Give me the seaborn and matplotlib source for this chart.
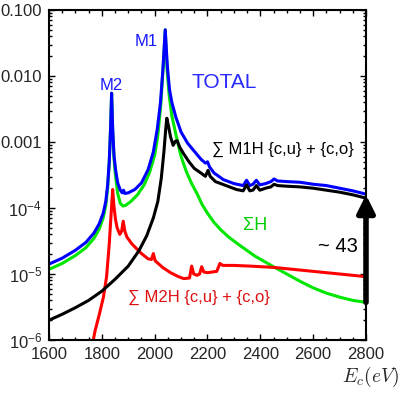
import numpy as np
import matplotlib
matplotlib.use("Agg")
import matplotlib.pyplot as plt
import seaborn as sns
from matplotlib.ticker import FixedLocator, FixedFormatter, MultipleLocator, LogLocator, NullFormatter

# --- data (energy in eV, log10 of the yield) ---
e_total = [1600, 1650, 1700, 1740, 1770, 1790, 1805, 1815, 1822, 1828, 1833, 1837, 1841, 1846,
           1852, 1860, 1870, 1877, 1882, 1887, 1900, 1925, 1950, 1975, 1995, 2010, 2022, 2032,
           2040, 2048, 2056, 2065, 2080, 2100, 2125, 2150, 2175, 2192, 2200, 2208, 2225, 2260,
           2300, 2335, 2348, 2360, 2372, 2385, 2398, 2420, 2440, 2452, 2465, 2500, 2550, 2600,
           2650, 2700, 2750, 2800]
log_total = [-4.85, -4.76, -4.64, -4.52, -4.38, -4.24, -4.08, -3.90, -3.65, -3.30, -2.80, -2.26,
             -2.80, -3.20, -3.42, -3.62, -3.73, -3.77, -3.73, -3.78, -3.77, -3.72, -3.62, -3.42,
             -3.15, -2.80, -2.40, -1.85, -1.30, -1.85, -2.20, -2.40, -2.62, -2.85, -3.02, -3.14,
             -3.26, -3.32, -3.30, -3.38, -3.47, -3.57, -3.63, -3.66, -3.58, -3.66, -3.64, -3.58,
             -3.65, -3.63, -3.60, -3.56, -3.59, -3.60, -3.61, -3.64, -3.66, -3.70, -3.74, -3.79]

e_h = [1600, 1650, 1700, 1740, 1770, 1790, 1805, 1815, 1822, 1828, 1833, 1837, 1841, 1846, 1852,
       1860, 1870, 1880, 1890, 1910, 1935, 1960, 1980, 2000, 2012, 2023, 2032, 2040, 2047, 2055,
       2065, 2080, 2100, 2120, 2140, 2160, 2180, 2200, 2225, 2250, 2280, 2320, 2380, 2450, 2500,
       2550, 2600, 2650, 2700, 2750, 2800]
log_h = [-4.93, -4.84, -4.72, -4.60, -4.46, -4.32, -4.15, -3.96, -3.70, -3.32, -2.80, -2.26, -2.82,
         -3.25, -3.52, -3.78, -3.93, -3.97, -3.96, -3.90, -3.80, -3.65, -3.47, -3.20, -2.90, -2.45,
         -1.88, -1.30, -1.90, -2.30, -2.60, -2.88, -3.22, -3.45, -3.63, -3.78, -3.95, -4.08, -4.22,
         -4.33, -4.44, -4.56, -4.73, -4.89, -5.00, -5.11, -5.21, -5.29, -5.35, -5.40, -5.43]

e_m1h = [1600, 1650, 1700, 1750, 1800, 1850, 1900, 1940, 1970, 1995, 2012, 2025, 2035, 2042, 2046,
         2052, 2060, 2070, 2078, 2085, 2095, 2110, 2130, 2150, 2175, 2192, 2202, 2210, 2230, 2270,
         2310, 2335, 2348, 2360, 2372, 2385, 2398, 2420, 2440, 2452, 2465, 2500, 2550, 2600, 2650,
         2700, 2750, 2800]
log_m1h = [-5.70, -5.61, -5.51, -5.40, -5.26, -5.08, -4.88, -4.65, -4.42, -4.15, -3.90, -3.55, -3.15,
           -2.80, -2.64, -2.75, -2.92, -3.05, -2.99, -2.98, -3.08, -3.18, -3.30, -3.40, -3.47, -3.52,
           -3.43, -3.52, -3.60, -3.66, -3.72, -3.74, -3.65, -3.74, -3.73, -3.66, -3.73, -3.70, -3.68,
           -3.64, -3.66, -3.67, -3.68, -3.70, -3.73, -3.76, -3.80, -3.85]

e_m2h = [1760, 1775, 1790, 1806, 1818, 1828, 1835, 1841, 1846, 1852, 1858, 1868, 1875, 1881, 1887,
         1895, 1913, 1930, 1950, 1975, 1988, 1995, 2002, 2030, 2060, 2090, 2110, 2132, 2140, 2148,
         2160, 2170, 2178, 2186, 2200, 2235, 2247, 2258, 2300, 2360, 2450, 2550, 2650, 2700, 2800]
log_m2h = [-6.15, -5.85, -5.62, -5.35, -5.04, -4.55, -4.10, -3.72, -3.98, -4.18, -4.30, -4.40, -4.35,
           -4.20, -4.35, -4.44, -4.54, -4.61, -4.69, -4.77, -4.78, -4.69, -4.80, -4.90, -4.98, -5.04,
           -5.07, -5.06, -4.88, -5.00, -5.02, -5.00, -4.89, -4.97, -4.98, -4.96, -4.84, -4.87, -4.87,
           -4.88, -4.90, -4.94, -4.98, -5.00, -5.04]

y_ticks = [1e-6, 1e-5, 1e-4, 1e-3, 1e-2, 1e-1]
y_ticklabels = ["$10^{-6}$", "$10^{-5}$", "$10^{-4}$", "0.001", "0.010", "0.100"]
x_ticks = [1600, 1800, 2000, 2200, 2400, 2600, 2800]

sns.set_style("ticks")
plt.rcParams["font.family"] = ["Liberation Sans", "DejaVu Sans"]
plt.rcParams["mathtext.fontset"] = "custom"
plt.rcParams["mathtext.rm"] = "Liberation Sans"
plt.rcParams["mathtext.it"] = "Liberation Sans:italic"

fig = plt.figure(figsize=(4.15, 3.94), dpi=100)
ax = fig.add_axes([49 / 415, 54 / 394, 317 / 415, 330 / 394])

lw = 2.2
sns.lineplot(x=e_h, y=10 ** np.array(log_h), ax=ax, color="#00e600", lw=lw, sort=False)
sns.lineplot(x=e_m2h, y=10 ** np.array(log_m2h), ax=ax, color="#ff0000", lw=lw, sort=False)
sns.lineplot(x=e_total, y=10 ** np.array(log_total), ax=ax, color="#0000ff", lw=lw, sort=False)
sns.lineplot(x=e_m1h, y=10 ** np.array(log_m1h), ax=ax, color="black", lw=lw, sort=False)

ax.set_yscale("log")
ax.set_xlim(1600, 2800)
ax.set_ylim(1e-6, 0.1)

ax.yaxis.set_major_locator(FixedLocator(y_ticks))
ax.yaxis.set_major_formatter(FixedFormatter(y_ticklabels))
ax.yaxis.set_minor_locator(LogLocator(base=10, subs=np.arange(2, 10)))
ax.yaxis.set_minor_formatter(NullFormatter())
ax.xaxis.set_major_locator(FixedLocator(x_ticks))
ax.xaxis.set_minor_locator(MultipleLocator(50))

ax.tick_params(which="both", direction="in", top=True, right=True, labelsize=12, width=1, color="black")
ax.tick_params(which="major", length=4, pad=5)
ax.tick_params(which="minor", length=2.5)
for s in ax.spines.values():
    s.set_linewidth(1.5)
    s.set_color("black")
ax.set_xlabel("")
ax.set_ylabel("")

# --- annotations ---
ax.text(1967, 10 ** -1.47, "M1", color="#1a1aff", fontsize=12, ha="center", va="center")
ax.text(1835, 10 ** -2.15, "M2", color="#1a1aff", fontsize=12, ha="center", va="center")
ax.text(2262, 10 ** -2.10, "TOTAL", color="#2a2aff", fontsize=15, ha="center", va="center")
ax.text(2217, 10 ** -3.12, "\u2211 M1H {c,u} + {c,o}", color="black", fontsize=12, ha="left", va="center")
ax.text(2335, 10 ** -4.26, "\u03a3H", color="#00cc00", fontsize=13, ha="left", va="center")
ax.text(1899, 10 ** -5.36, "\u2211 M2H {c,u} + {c,o}", color="#dd1111", fontsize=12, ha="left", va="center")
ax.text(2768, 10 ** -4.59, "~ 43", color="black", fontsize=14.5, ha="right", va="center")

ax.annotate("", xy=(2800, 10 ** -3.80), xytext=(2800, 10 ** -5.43),
            arrowprops=dict(arrowstyle="-|>", lw=4, color="black", mutation_scale=26,
                            shrinkA=0, shrinkB=0))

ax.text(1.013, -0.112, "$E_c(eV)$", transform=ax.transAxes, fontsize=14, ha="center", va="center",
        math_fontfamily="cm")

fig.savefig("out.png", dpi=100)
